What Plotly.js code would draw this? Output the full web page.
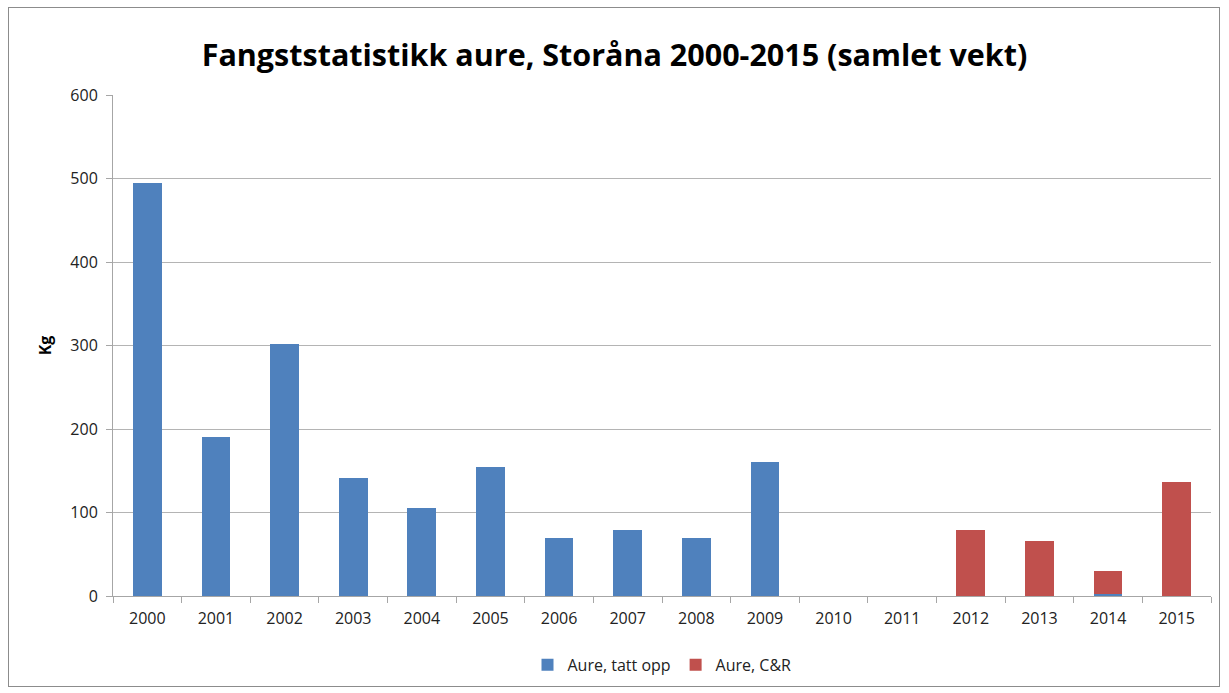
<!DOCTYPE html>
<html><head><meta charset="utf-8">
<script src="https://cdn.plot.ly/plotly-3.0.1.min.js"></script>
<style>
html,body{margin:0;padding:0;background:#fff;}
#frame{position:absolute;left:8px;top:7px;width:1212px;height:680px;border:1px solid #8c8c8c;box-sizing:border-box;}
#chart{position:absolute;left:0;top:0;width:1229px;height:693px;}
</style>
</head><body>
<div id="frame"></div>
<div id="chart"></div>
<script>
const years = ["2000","2001","2002","2003","2004","2005","2006","2007","2008","2009","2010","2011","2012","2013","2014","2015"];
const tattOpp = [495,190,302,141,105,155,70,79,69,160,0,0,0,0,3,0];
const catchRelease = [0,0,0,0,0,0,0,0,0,0,0,0,79,66,27,136];
const seriesNames = ["Aure, tatt opp","Aure, C&R"];
const titleText = "Fangststatistikk aure, Storåna 2000-2015 (samlet vekt)";
const yTitle = "Kg";

const fontFam = "'Open Sans', 'Liberation Sans', sans-serif";
const data = [
  {type:"bar", x:years, y:tattOpp, name:seriesNames[0], marker:{color:"#4f81bd"}, hoverinfo:"x+y+name"},
  {type:"bar", x:years, y:catchRelease, name:seriesNames[1], marker:{color:"#c0504d"}, hoverinfo:"x+y+name"}
];
const layout = {
  width:1229, height:693,
  paper_bgcolor:"rgba(0,0,0,0)", plot_bgcolor:"rgba(0,0,0,0)",
  barmode:"stack", bargap:0.58,
  margin:{l:113, r:18, t:95, b:96},
  font:{family:fontFam, size:16, color:"#222"},
  title:{text:"<b>"+titleText+"</b>", x:0.5, xanchor:"center", y:0.92, yanchor:"middle",
         font:{family:fontFam, size:30.5, color:"#000"}},
  xaxis:{type:"category", tickson:"boundaries", ticks:"outside", ticklen:6, tickcolor:"#a6a6a6",
         showline:true, linecolor:"#a6a6a6", linewidth:1, showgrid:false, zeroline:false,
         ticklabelstandoff:8, tickfont:{size:16, color:"#222"}},
  yaxis:{range:[0,600], dtick:100, ticks:"outside", ticklen:6, tickcolor:"#a6a6a6",
         showline:true, linecolor:"#a6a6a6", gridcolor:"#b4b4b4", gridwidth:1, zeroline:false,
         ticklabelstandoff:5, tickfont:{size:16, color:"#222"},
         title:{text:"<b>"+yTitle+"</b>", standoff:14, font:{size:16, color:"#000"}}},
  legend:{orientation:"h", x:0.5, xanchor:"center", y:-0.135, yanchor:"middle",
          font:{size:16, color:"#222"}, traceorder:"normal", itemwidth:30}
};
Plotly.newPlot("chart", data, layout, {displayModeBar:false});
</script>
</body></html>
